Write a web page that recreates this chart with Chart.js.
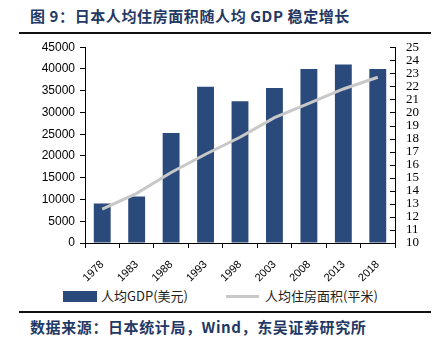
<!DOCTYPE html>
<html>
<head>
<meta charset="utf-8">
<script src="https://cdn.jsdelivr.net/npm/chart.js@4/dist/chart.umd.min.js"></script>
<style>
    body { margin: 0; background: #fff; width: 440px; height: 344px; position: relative; overflow: hidden; }
    .cap { position: absolute; left: 30px; font-family: "Noto Sans CJK SC", sans-serif; font-weight: bold; color: #1f3864; white-space: nowrap; }
    #title { top: 5px; font-size: 15px; letter-spacing: 0.6px; }
    #source { top: 316px; font-size: 15px; letter-spacing: 0.6px; }
    .rule { position: absolute; left: 19px; width: 412px; background: #111; }
    #wrap { position: absolute; left: 0; top: 35px; width: 440px; height: 250px; }
    #legend { position: absolute; top: 287px; left: 0; width: 440px; height: 18px; font-family: "Noto Sans CJK SC", sans-serif; font-size: 13px; color: #222; }
    #legend span { position: absolute; top: 0; line-height: 18px; white-space: nowrap; }
    .swatch { position: absolute; }
</style>
</head>
<body>
<div id="title" class="cap">图 9：日本人均住房面积随人均 GDP 稳定增长</div>
<div class="rule" style="top:32px;height:2px"></div>
<div id="wrap"><canvas id="housingChart" width="440" height="250"></canvas></div>
<div id="legend"></div>
<div class="rule" style="top:311px;height:1.5px"></div>
<div id="source" class="cap">数据来源：日本统计局，Wind，东吴证券研究所</div>
<script>
const years = ['1978', '1983', '1988', '1993', '1998', '2003', '2008', '2013', '2018'];
const gdpPerCapita = [9100, 10700, 25300, 35900, 32600, 35600, 40000, 41000, 40000];
const floorArea = [12.6, 13.8, 15.4, 16.8, 18.1, 19.6, 20.7, 21.8, 22.7];

const barColor = '#2b4a7c';
const lineColor = '#c8c8c8';

// right axis ticks point inward, chart.js only draws them outward
const innerTicks = {
    id: 'innerTicks',
    afterDraw(chart) {
        const s = chart.scales.y1;
        const ctx = chart.ctx;
        ctx.save();
        ctx.strokeStyle = '#000';
        ctx.lineWidth = 1;
        ctx.beginPath();
        s.ticks.forEach((t) => {
            const y = Math.round(s.getPixelForValue(t.value)) + 0.5;
            ctx.moveTo(s.left - 5, y);
            ctx.lineTo(s.left, y);
        });
        ctx.stroke();
        ctx.restore();
    }
};

const ctx = document.getElementById('housingChart').getContext('2d');
const chart = new Chart(ctx, {
    data: {
        labels: years,
        datasets: [
            {
                type: 'line',
                label: '人均住房面积(平米)',
                data: floorArea,
                yAxisID: 'y1',
                borderColor: lineColor,
                borderWidth: 3,
                pointRadius: 0,
                tension: 0,
                order: 0
            },
            {
                type: 'bar',
                label: '人均GDP(美元)',
                data: gdpPerCapita,
                yAxisID: 'y',
                backgroundColor: barColor,
                categoryPercentage: 1,
                barPercentage: 0.49,
                order: 1
            }
        ]
    },
    options: {
        responsive: false,
        animation: false,
        layout: { padding: { top: 10, left: 0, right: 0, bottom: 0 } },
        plugins: {
            legend: { display: false },
            tooltip: { enabled: false }
        },
        scales: {
            x: {
                offset: true,
                grid: { display: true, drawOnChartArea: false, offset: true, tickLength: 5, color: '#000' },
                border: { color: '#000', width: 1 },
                ticks: {
                    color: '#000',
                    font: { family: 'Liberation Sans', size: 11 },
                    minRotation: 45,
                    maxRotation: 45,
                    autoSkip: false,
                    padding: 10
                },
                afterFit(scale) { scale.height = 42; }
            },
            y: {
                position: 'left',
                min: 0,
                max: 45000,
                grid: { display: true, drawOnChartArea: false, tickLength: 5, color: '#000' },
                border: { color: '#000', width: 1 },
                ticks: {
                    stepSize: 5000,
                    color: '#000',
                    font: { family: 'Liberation Sans', size: 12 },
                    padding: 5,
                    callback: (v) => String(v)
                },
                afterFit(scale) { scale.width = 85; }
            },
            y1: {
                position: 'right',
                min: 10,
                max: 25,
                grid: { display: false },
                border: { display: true, color: '#000', width: 1 },
                ticks: {
                    stepSize: 1,
                    autoSkip: false,
                    color: '#000',
                    font: { family: 'Liberation Serif', size: 13 },
                    padding: 3
                },
                afterFit(scale) { scale.width = 45; }
            }
        }
    },
    plugins: [innerTicks]
});

// legend drawn from the dataset labels
const legend = document.getElementById('legend');
const barDs = chart.data.datasets[1];
const lineDs = chart.data.datasets[0];
legend.innerHTML =
    '<div class="swatch" style="left:63px;top:4px;width:34px;height:11px;background:' + barDs.backgroundColor + '"></div>' +
    '<span style="left:101px">' + barDs.label + '</span>' +
    '<div class="swatch" style="left:226px;top:8px;width:33px;height:3px;background:' + lineDs.borderColor + '"></div>' +
    '<span style="left:265px">' + lineDs.label + '</span>';
</script>
</body>
</html>
